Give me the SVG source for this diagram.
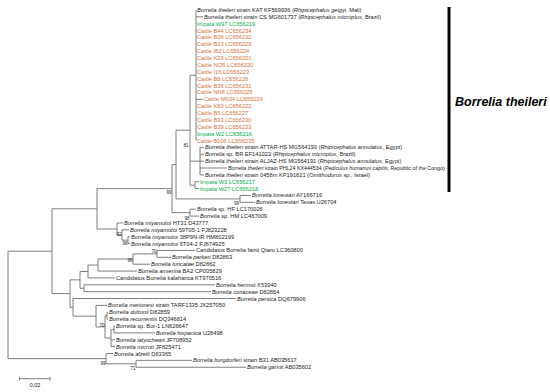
<svg xmlns="http://www.w3.org/2000/svg" width="550" height="392" viewBox="0 0 550 392">
<style>
text{font-family:"Liberation Sans",Arial,sans-serif;font-size:5.7px;fill:#222}
.i{font-style:italic}
.g{fill:#00B050}
.o{fill:#D5733A}
.bs{font-size:4.6px;text-anchor:end}
.br{fill:none;stroke:#707070;stroke-width:0.9}
</style>
<rect width="550" height="392" fill="#fff"/>
<g id="connectors" class="br">
<path d="M196,10V140.53M196,16.87H203M196,99.31H203
M200,147.4V174.88M200,147.4H204M200,154.27H204M200,161.14H204M200,168.01H227M200,174.88H204
M195,181.75V188.62M195,181.75H199M195,188.62H199
M190,75.27V185.19M190,75.27H196M190,161.14H200M190,185.19H195
M240,195.49V202.36M240,195.49H251M240,202.36H255
M176,130.23V198.93M176,130.23H190M176,198.93H240
M190,209.23V216.1M190,209.23H196M190,216.1H199
M172,164.58V212.67M172,164.58H176M172,212.67H190
M128,236.71V243.58M128,236.71H130M128,243.58H130
M122,229.84V240.15M122,229.84H129M122,240.15H128
M117,222.97V235M117,222.97H123M117,235H122
M97,188.63V228.98M97,188.63H172M97,228.98H117
M157,250.45V257.32M157,250.45H195M157,257.32H171
M133,253.89V264.19M133,253.89H157M133,264.19H150
M98,259.04V271.06M98,259.04H133M98,271.06H137
M88,265.05V277.93M88,265.05H98M88,277.93H115
M84,284.8V291.67M84,284.8H215M84,291.67H211
M80,271.49V288.24M80,271.49H88M80,288.24H84
M107,312.28V319.15M107,312.28H108M107,319.15H108
M114,326.02V332.89M114,326.02H115M114,332.89H155
M111,329.46V346.63M111,329.46H114M111,339.76H115M111,346.63H115
M105,315.72V338.05M105,315.72H107M105,338.05H111
M96,305.41V326.88M96,305.41H107M96,326.88H105
M73,298.54V316.15M73,298.54H236M73,316.15H96
M70,279.87V307.35M70,279.87H80M70,307.35H73
M52,208.8V293.61M52,208.8H97M52,293.61H70
M136,360.37V367.24M136,360.37H192M136,367.24H246
M106,353.5V363.8M106,353.5H113M106,363.8H136
M8,251.2V358.65M8,251.2H52M8,358.65H106"/>
</g>
<g id="bootstrap">
<text class="bs" x="188.5" y="147">81</text>
<text class="bs" x="171.5" y="194">99</text>
<text class="bs" x="239" y="205.3">99</text>
<text class="bs" x="189.5" y="219.5">98</text>
<text class="bs" x="121.5" y="236">92</text>
<text class="bs" x="127.5" y="245">96</text>
<text class="bs" x="156.5" y="252.5">70</text>
<text class="bs" x="132.5" y="262">96</text>
<text class="bs" x="104.5" y="327">70</text>
<text class="bs" x="105.5" y="365">99</text>
<text class="bs" x="135.5" y="369.5">71</text>
</g>
<g id="leaves">
<g id="n1"><text x="197" y="12"><tspan class="i">Borrelia theileri</tspan> strain KAT KF569936 (<tspan class="i">Rhipicephalus geigyi</tspan>, Mali)</text></g>
<g id="n2"><text x="204" y="18.87"><tspan class="i">Borrelia theileri</tspan> strain CS MG601737 (<tspan class="i">Rhipicephalus microplus</tspan>, Brazil)</text></g>
<g id="n3"><text class="g" x="197" y="25.74">Impala W97 LC656219</text></g>
<g id="n4"><text class="o" x="197" y="32.61">Cattle B44 LC656234</text></g>
<g id="n5"><text class="o" x="197" y="39.48">Cattle B38 LC656232</text></g>
<g id="n6"><text class="o" x="197" y="46.35">Cattle B13 LC656229</text></g>
<g id="n7"><text class="o" x="197" y="53.22">Cattle I82 LC656224</text></g>
<g id="n8"><text class="o" x="197" y="60.09">Cattle K23 LC656221</text></g>
<g id="n9"><text class="o" x="197" y="66.96">Cattle NI26 LC656220</text></g>
<g id="n10"><text class="o" x="197" y="73.83">Cattle I16 LC656223</text></g>
<g id="n11"><text class="o" x="197" y="80.7">Cattle B8 LC656228</text></g>
<g id="n12"><text class="o" x="197" y="87.57">Cattle B36 LC656231</text></g>
<g id="n13"><text class="o" x="197" y="94.44">Cattle NN8 LC656225</text></g>
<g id="n14"><text class="o" x="204" y="101.31">Cattle NN34 LC656226</text></g>
<g id="n15"><text class="o" x="197" y="108.18">Cattle K83 LC656222</text></g>
<g id="n16"><text class="o" x="197" y="115.05">Cattle B5 LC656227</text></g>
<g id="n17"><text class="o" x="197" y="121.92">Cattle B33 LC656230</text></g>
<g id="n18"><text class="o" x="197" y="128.79">Cattle B39 LC656233</text></g>
<g id="n19"><text class="g" x="197" y="135.66">Impala W2 LC656216</text></g>
<g id="n20"><text class="o" x="197" y="142.53">Cattle B106 LC656235</text></g>
<g id="n21"><text x="205" y="149.4"><tspan class="i">Borrelia theileri</tspan> strain ATTAR-HS MG564193 (<tspan class="i">Rhipicephalus annulatus</tspan>, Egypt)</text></g>
<g id="n22"><text x="205" y="156.27"><tspan class="i">Borrelia</tspan> sp. BR EF141022 (<tspan class="i">Rhipicephalus microplus</tspan>, Brazil)</text></g>
<g id="n23"><text x="205" y="163.14"><tspan class="i">Borrelia theileri</tspan> strain ALJAZ-HS MG564191 (<tspan class="i">Rhipicephalus annulatus</tspan>, Egypt)</text></g>
<g id="n24"><text x="228" y="170.2" style="font-size:5.3px"><tspan class="i">Borrelia theileri</tspan> strain PHL24 KX444534 (<tspan class="i">Pediculus humanus capitis</tspan>, Republic of the Congo)</text></g>
<g id="n25"><text x="205" y="176.88"><tspan class="i">Borrelia theileri</tspan> strain 0458m KP191621 (<tspan class="i">Ornithodoros</tspan> sp., Israel)</text></g>
<g id="n26"><text class="g" x="200" y="183.75">Impala W3 LC656217</text></g>
<g id="n27"><text class="g" x="200" y="190.62">Impala W27 LC656218</text></g>
<g id="n28"><text x="252" y="197.49"><tspan class="i">Borrelia lonestari</tspan> AY166716</text></g>
<g id="n29"><text x="256" y="204.36"><tspan class="i">Borrelia lonestari</tspan> Texas U26704</text></g>
<g id="n30"><text x="197" y="211.23"><tspan class="i">Borrelia</tspan> sp. HF LC170026</text></g>
<g id="n31"><text x="200" y="218.1"><tspan class="i">Borrelia</tspan> sp. HM LC467009</text></g>
<g id="n32"><text x="124" y="224.97"><tspan class="i">Borrelia miyamotoi</tspan> HT31 D43777</text></g>
<g id="n33"><text x="130" y="231.84"><tspan class="i">Borrelia miyamotoi</tspan> 59T05-1 FJ823228</text></g>
<g id="n34"><text x="131" y="238.71"><tspan class="i">Borrelia miyamotoi</tspan> 38P9N-IR HM802199</text></g>
<g id="n35"><text x="131" y="245.58"><tspan class="i">Borrelia miyamotoi</tspan> 6T04-2 FJ874925</text></g>
<g id="n36"><text x="196" y="252.45">Candidatus Borrelia fainii Qtaro LC360800</text></g>
<g id="n37"><text x="172" y="259.32"><tspan class="i">Borrelia parkeri</tspan> D82863</text></g>
<g id="n38"><text x="151" y="266.19"><tspan class="i">Borrelia turicatae</tspan> D82862</text></g>
<g id="n39"><text x="138" y="273.06"><tspan class="i">Borrelia anserina</tspan> BA2 CP005829</text></g>
<g id="n40"><text x="116" y="279.93">Candidatus Borrelia kalaharica KT970516</text></g>
<g id="n41"><text x="216" y="286.8"><tspan class="i">Borrelia hermsii</tspan> X53940</text></g>
<g id="n42"><text x="212" y="293.67"><tspan class="i">Borrelia coriaceae</tspan> D82864</text></g>
<g id="n43"><text x="237" y="300.54"><tspan class="i">Borrelia persica</tspan> DQ679906</text></g>
<g id="n44"><text x="108" y="307.41"><tspan class="i">Borrelia merionesi</tspan> strain TARF1335 JX257050</text></g>
<g id="n45"><text x="109" y="314.28"><tspan class="i">Borrelia duttonii</tspan> D82859</text></g>
<g id="n46"><text x="109" y="321.15"><tspan class="i">Borrelia recurrentis</tspan> DQ346814</text></g>
<g id="n47"><text x="116" y="328.02"><tspan class="i">Borrelia</tspan> sp. Bor-1 LN626647</text></g>
<g id="n48"><text x="156" y="334.89"><tspan class="i">Borrelia hispanica</tspan> U28498</text></g>
<g id="n49"><text x="116" y="341.76"><tspan class="i">Borrelia latyschewii</tspan> JF708952</text></g>
<g id="n50"><text x="116" y="348.63"><tspan class="i">Borrelia microti</tspan> JF825471</text></g>
<g id="n51"><text x="114" y="355.5"><tspan class="i">Borrelia afzelii</tspan> D63365</text></g>
<g id="n52"><text x="193" y="362.37"><tspan class="i">Borrelia burgdorferi</tspan> strain B31 AB035617</text></g>
<g id="n53"><text x="247" y="369.24"><tspan class="i">Borrelia garinii</tspan> AB035602</text></g>
</g>
<g id="clade">
<path d="M449,7V192" stroke="#000" stroke-width="3"/>
<text x="455" y="106" style="font-size:12.5px;font-weight:bold;font-style:italic;fill:#000">Borrelia theileri</text>
</g>
<g id="scale">
<path d="M19.5,378.7H50M19.5,376.9V380.5M50,376.9V380.5" class="br"/>
<text x="35" y="387" style="font-size:5.5px;text-anchor:middle">0.02</text>
</g>
</svg>
